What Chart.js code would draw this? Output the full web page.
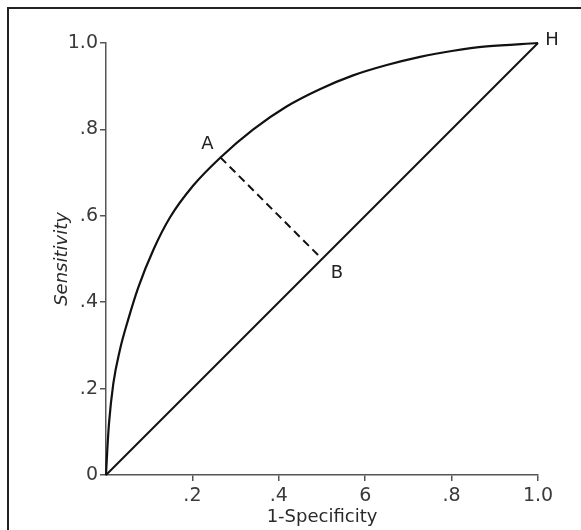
<!DOCTYPE html>
<html>
<head>
<meta charset="utf-8">
<title>ROC curve</title>
<script src="https://cdn.jsdelivr.net/npm/chart.js@4/dist/chart.umd.min.js"></script>
<style>
  html, body { margin: 0; padding: 0; background: #fff; }
  #wrap { position: relative; width: 581px; height: 530px; overflow: hidden; background: #fff; }
  #frame { position: absolute; left: 7px; top: 7px; width: 600px; height: 600px;
           border-top: 2px solid #222; border-left: 2px solid #222; pointer-events: none; }
  canvas { position: absolute; left: 0; top: 0; }
</style>
</head>
<body>
<div id="wrap">
  <canvas id="roc" width="581" height="530"></canvas>
  <div id="frame"></div>
</div>
<script>
// ROC curve: false-positive rate (1 - specificity) against sensitivity
const rocFpr = [0, 0.003, 0.007, 0.017, 0.032, 0.052, 0.075, 0.110, 0.148, 0.202, 0.265,
                0.341, 0.418, 0.495, 0.572, 0.650, 0.727, 0.804, 0.881, 1.0];
const rocTpr = [0, 0.058, 0.120, 0.212, 0.289, 0.362, 0.435, 0.522, 0.596, 0.670, 0.735,
                0.800, 0.853, 0.893, 0.925, 0.949, 0.968, 0.982, 0.992, 1.0];

// chance diagonal
const chanceFpr = [0, 1];
const chanceTpr = [0, 1];

// labelled points: A on the curve, B its projection on the diagonal, H the top corner
const pointNames = ['A', 'B', 'H'];
const pointFpr = [0.265, 0.5, 1.0];
const pointTpr = [0.735, 0.5, 1.0];

// tick labels
const xTickLabels = ['', '.2', '.4', '6', '.8', '1.0'];
const yTickLabels = ['0', '.2', '.4', '.6', '.8', '1.0'];

const toXY = (xs, ys) => xs.map((x, i) => ({ x: x, y: ys[i] }));

const FONT = "'DejaVu Sans', sans-serif";
const INK = '#111';
const AXIS = '#555';

// letters beside the named points (pixel offsets from each point)
const letterOffsets = { A: [-13, -13], B: [15, 14], H: [14, -3] };
const pointLetters = {
  id: 'pointLetters',
  afterDatasetsDraw(chart) {
    const { ctx, scales: { x, y } } = chart;
    ctx.save();
    ctx.font = '18px ' + FONT;
    ctx.fillStyle = '#222';
    ctx.textAlign = 'center';
    ctx.textBaseline = 'middle';
    pointNames.forEach((name, i) => {
      const off = letterOffsets[name];
      ctx.fillText(name, x.getPixelForValue(pointFpr[i]) + off[0], y.getPixelForValue(pointTpr[i]) + off[1]);
    });
    ctx.restore();
  }
};

const tickFont = { family: FONT, size: 19 };

new Chart(document.getElementById('roc'), {
  type: 'scatter',
  data: {
    datasets: [
      {
        data: toXY(rocFpr, rocTpr),
        showLine: true,
        borderColor: INK,
        borderWidth: 2.2,
        pointRadius: 0,
        cubicInterpolationMode: 'monotone',
        clip: false
      },
      {
        data: toXY(chanceFpr, chanceTpr),
        showLine: true,
        borderColor: INK,
        borderWidth: 2,
        pointRadius: 0,
        clip: false
      },
      {
        data: toXY([pointFpr[0], pointFpr[1]], [pointTpr[0], pointTpr[1]]),
        showLine: true,
        borderColor: INK,
        borderWidth: 2,
        borderDash: [8, 5],
        pointRadius: 0,
        clip: false
      }
    ]
  },
  options: {
    responsive: false,
    animation: false,
    devicePixelRatio: 1,
    layout: { padding: { left: 0, top: 43, right: 43, bottom: 0 } },
    plugins: { legend: { display: false }, tooltip: { enabled: false } },
    scales: {
      x: {
        type: 'linear',
        min: 0,
        max: 1,
        afterFit(scale) { scale.height = 55; },
        ticks: {
          stepSize: 0.2,
          autoSkip: false,
          maxRotation: 0,
          padding: 4,
          color: '#3a3a3a',
          font: tickFont,
          callback: (v, i) => xTickLabels[i]
        },
        grid: {
          drawOnChartArea: false,
          drawTicks: true,
          tickLength: 6,
          lineWidth: 1.5,
          color: c => (c.index === 0 ? 'rgba(0,0,0,0)' : AXIS)
        },
        border: { display: true, color: AXIS, width: 1.5 },
        title: {
          display: true,
          text: '1-Specificity',
          color: '#2a2a2a',
          font: { family: FONT, size: 18 },
          padding: { top: 0, bottom: 2 }
        }
      },
      y: {
        type: 'linear',
        min: 0,
        max: 1,
        afterFit(scale) { scale.width = 106; },
        ticks: {
          stepSize: 0.2,
          autoSkip: false,
          padding: 2,
          color: '#3a3a3a',
          font: tickFont,
          callback: (v, i) => yTickLabels[i]
        },
        grid: {
          drawOnChartArea: false,
          drawTicks: true,
          tickLength: 6,
          lineWidth: 1.5,
          color: AXIS
        },
        border: { display: true, color: AXIS, width: 1.5 },
        title: {
          display: true,
          text: 'Sensitivity',
          color: '#2a2a2a',
          font: { family: FONT, size: 18, style: 'italic' },
          padding: { top: 52, bottom: 0 }
        }
      }
    }
  },
  plugins: [pointLetters]
});
</script>
</body>
</html>
